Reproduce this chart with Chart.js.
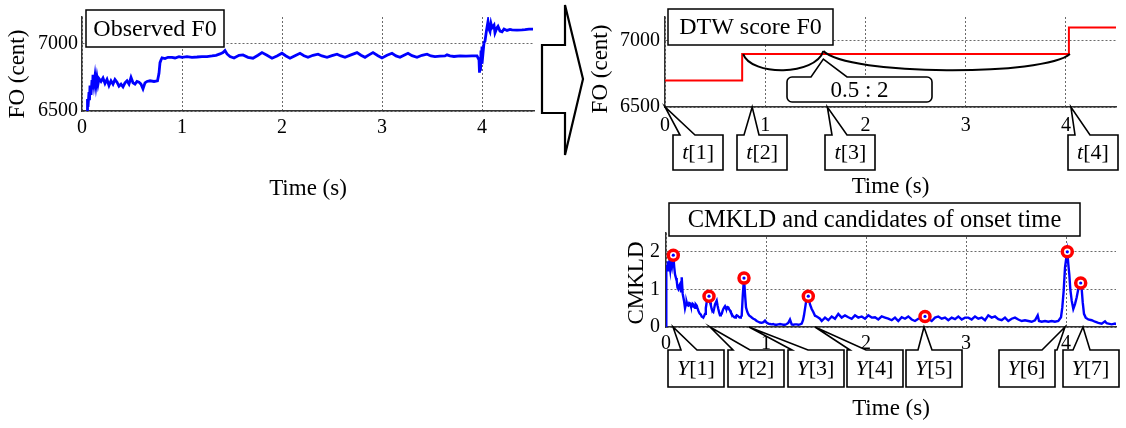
<!DOCTYPE html>
<html>
<head>
<meta charset="utf-8">
<script src="https://cdn.jsdelivr.net/npm/chart.js@4.4.1/dist/chart.umd.min.js"></script>
<style>
  html, body { margin: 0; padding: 0; background: #fff; }
  #page { position: relative; width: 1126px; height: 428px; overflow: hidden; }
  canvas, svg { position: absolute; }
</style>
</head>
<body>
<div id="page">
  <canvas id="obsChart" width="560" height="215" style="left:0;top:0"></canvas>
  <canvas id="dtwChart" width="541" height="202" style="left:585px;top:0"></canvas>
  <canvas id="klChart" width="541" height="233" style="left:585px;top:195px"></canvas>
  <svg width="60" height="170" style="left:530px;top:0">
    <polygon points="12,45 35,45 35,5 53,79 35,155 35,113 12,113" fill="#fff" stroke="#000" stroke-width="2.2" stroke-linejoin="miter"/>
  </svg>
</div>
<script>
// tick labels
const timeTicks = [0, 1, 2, 3, 4];
const f0Ticks = [6500, 7000];
const klTicks = [0, 1, 2];

// observed F0 (time in s, value in cent)
const obsTime = [0.05, 0.055, 0.06, 0.07, 0.075, 0.08, 0.09, 0.10, 0.105, 0.11, 0.12, 0.13, 0.14, 0.15, 0.16, 0.17, 0.19, 0.21, 0.23, 0.25,
  0.27, 0.29, 0.31, 0.33, 0.35, 0.37, 0.39, 0.41, 0.43, 0.45, 0.47, 0.49, 0.51, 0.53, 0.55, 0.57, 0.59, 0.61, 0.63, 0.65,
  0.68, 0.72, 0.755, 0.77, 0.78, 0.79, 0.80, 0.83, 0.86, 0.90, 0.93, 0.97, 1.00, 1.05, 1.10, 1.15, 1.20, 1.25, 1.30, 1.34,
  1.38, 1.41, 1.43, 1.45, 1.48, 1.52, 1.57, 1.61, 1.66, 1.71, 1.76, 1.80, 1.85, 1.90, 1.95, 2.00, 2.04, 2.08, 2.13, 2.18,
  2.22, 2.26, 2.31, 2.36, 2.40, 2.45, 2.50, 2.55, 2.59, 2.63, 2.69, 2.75, 2.79, 2.83, 2.87, 2.91, 2.96, 3.00, 3.05, 3.10,
  3.14, 3.18, 3.22, 3.26, 3.30, 3.35, 3.40, 3.45, 3.49, 3.53, 3.58, 3.63, 3.65, 3.68, 3.72, 3.78, 3.84, 3.90, 3.95, 3.97,
  3.975, 3.98, 3.985, 3.99, 3.995, 4.00, 4.01, 4.02, 4.03, 4.045, 4.06, 4.07, 4.08, 4.09, 4.10, 4.12, 4.13, 4.15, 4.16, 4.18,
  4.20, 4.22, 4.25, 4.28, 4.30, 4.35, 4.40, 4.43, 4.47, 4.51];
const obsF0 = [6500, 6590, 6530, 6640, 6580, 6690, 6620, 6730, 6660, 6770, 6700, 6760, 6690, 6750, 6700, 6740, 6720, 6745, 6705, 6735,
  6690, 6725, 6700, 6735, 6715, 6685, 6700, 6680, 6710, 6725, 6700, 6750, 6710, 6700, 6720, 6715, 6700, 6665, 6710, 6720,
  6725, 6720, 6725, 6780, 6860, 6880, 6895, 6890, 6900, 6900, 6895, 6905, 6900, 6905, 6900, 6902, 6905, 6905, 6910, 6915,
  6925, 6935, 6950, 6925, 6905, 6895, 6915, 6918, 6900, 6893, 6915, 6935, 6915, 6893, 6910, 6930, 6910, 6893, 6912, 6930,
  6912, 6900, 6915, 6923, 6910, 6900, 6912, 6923, 6910, 6900, 6918, 6935, 6915, 6900, 6918, 6935, 6912, 6895, 6915, 6930,
  6910, 6900, 6915, 6930, 6912, 6900, 6915, 6923, 6910, 6905, 6908, 6910, 6918, 6910, 6906, 6910, 6908, 6910, 6910, 6880,
  6785, 6900, 6800, 6950, 6850, 6980, 6930, 7010, 7020, 7100, 7166, 7110, 7092, 7150, 7120, 7140, 7082, 7120, 7130, 7095,
  7090, 7110, 7100, 7108, 7104, 7102, 7104, 7106, 7110, 7110];

// DTW score F0 (step values, each holds until the next time)
const dtwTime = [0, 0.77, 4.03, 4.5];
const dtwF0 = [6700, 6900, 7100, 7100];
const braceTimes = [0.78, 1.58, 4.04];
const braceLevel = 6900;
const ratioLabel = '0.5 : 2';
const ratioBoxCenter = 1.945;
const tMarks = [0, 0.87, 1.62, 4.05];
const tBoxCenters = [0.33, 0.97, 1.85, 4.27];
const tLabels = ['t[1]', 't[2]', 't[3]', 't[4]'];

// CMKLD
const klTime = [0.000, 0.003, 0.010, 0.018, 0.025, 0.033, 0.042, 0.050, 0.060, 0.073, 0.082, 0.090, 0.100, 0.107, 0.115, 0.123, 0.132, 0.140, 0.150, 0.157,
  0.167, 0.180, 0.190, 0.200, 0.207, 0.215, 0.223, 0.232, 0.240, 0.248, 0.257, 0.265, 0.273, 0.282, 0.290, 0.298, 0.307, 0.315, 0.323, 0.332,
  0.340, 0.348, 0.357, 0.365, 0.373, 0.382, 0.390, 0.398, 0.407, 0.415, 0.430, 0.440, 0.448, 0.457, 0.465, 0.473, 0.482, 0.490, 0.507, 0.515,
  0.523, 0.532, 0.540, 0.548, 0.557, 0.565, 0.573, 0.582, 0.590, 0.598, 0.607, 0.615, 0.623, 0.632, 0.640, 0.648, 0.657, 0.665, 0.673, 0.682,
  0.690, 0.698, 0.707, 0.715, 0.723, 0.732, 0.740, 0.748, 0.757, 0.767, 0.780, 0.790, 0.800, 0.813, 0.823, 0.833, 0.845, 0.857, 0.873, 0.890,
  0.907, 0.923, 0.940, 0.957, 0.975, 0.990, 1.005, 1.023, 1.040, 1.057, 1.073, 1.090, 1.107, 1.123, 1.140, 1.157, 1.173, 1.190, 1.207, 1.223,
  1.240, 1.257, 1.273, 1.290, 1.307, 1.323, 1.340, 1.357, 1.370, 1.380, 1.400, 1.423, 1.440, 1.457, 1.473, 1.490, 1.507, 1.523, 1.540, 1.557,
  1.590, 1.623, 1.657, 1.690, 1.723, 1.757, 1.790, 1.823, 1.857, 1.890, 1.923, 1.957, 1.990, 2.023, 2.057, 2.090, 2.123, 2.157, 2.190, 2.223,
  2.257, 2.290, 2.323, 2.357, 2.390, 2.423, 2.457, 2.490, 2.523, 2.557, 2.590, 2.623, 2.657, 2.690, 2.723, 2.757, 2.790, 2.823, 2.857, 2.890,
  2.923, 2.957, 2.990, 3.023, 3.057, 3.090, 3.123, 3.157, 3.190, 3.223, 3.257, 3.290, 3.323, 3.357, 3.390, 3.423, 3.457, 3.490, 3.523, 3.557,
  3.590, 3.623, 3.657, 3.690, 3.717, 3.730, 3.757, 3.790, 3.823, 3.857, 3.890, 3.923, 3.950, 3.963, 3.977, 3.990, 4.003, 4.013, 4.023, 4.033,
  4.043, 4.057, 4.073, 4.090, 4.107, 4.123, 4.137, 4.147, 4.157, 4.167, 4.180, 4.197, 4.223, 4.257, 4.290, 4.323, 4.357, 4.390, 4.407, 4.423,
  4.457, 4.490, 4.507];
const klValue = [0.00, 1.65, 1.55, 1.75, 1.48, 1.70, 1.52, 1.78, 1.62, 1.91, 1.60, 1.40, 1.30, 1.23, 1.05, 1.01, 1.10, 1.14, 0.95, 1.32,
  0.88, 0.70, 0.50, 0.62, 0.66, 0.58, 0.57, 0.64, 0.63, 0.56, 0.55, 0.62, 0.60, 0.53, 0.51, 0.60, 0.57, 0.50, 0.44, 0.38,
  0.35, 0.33, 0.28, 0.27, 0.25, 0.30, 0.35, 0.50, 0.66, 0.72, 0.82, 0.66, 0.58, 0.48, 0.42, 0.40, 0.50, 0.60, 0.70, 0.58,
  0.48, 0.38, 0.31, 0.33, 0.35, 0.42, 0.48, 0.52, 0.55, 0.50, 0.48, 0.53, 0.52, 0.47, 0.44, 0.39, 0.35, 0.30, 0.28, 0.26,
  0.25, 0.28, 0.31, 0.30, 0.28, 0.26, 0.25, 0.27, 0.30, 0.80, 1.30, 0.88, 0.52, 0.40, 0.34, 0.30, 0.28, 0.25, 0.22, 0.20,
  0.16, 0.14, 0.12, 0.11, 0.13, 0.17, 0.12, 0.09, 0.08, 0.07, 0.08, 0.06, 0.06, 0.07, 0.08, 0.07, 0.06, 0.06, 0.08, 0.11,
  0.20, 0.07, 0.06, 0.07, 0.07, 0.06, 0.07, 0.09, 0.18, 0.31, 0.66, 0.82, 0.60, 0.48, 0.40, 0.30, 0.28, 0.25, 0.22, 0.16,
  0.25, 0.18, 0.28, 0.22, 0.35, 0.25, 0.31, 0.26, 0.22, 0.31, 0.25, 0.28, 0.22, 0.31, 0.25, 0.26, 0.20, 0.28, 0.25, 0.22,
  0.18, 0.25, 0.16, 0.26, 0.22, 0.28, 0.20, 0.16, 0.22, 0.25, 0.28, 0.22, 0.16, 0.25, 0.28, 0.22, 0.25, 0.18, 0.25, 0.21,
  0.28, 0.20, 0.25, 0.25, 0.20, 0.28, 0.22, 0.25, 0.18, 0.31, 0.25, 0.28, 0.21, 0.18, 0.25, 0.16, 0.22, 0.25, 0.20, 0.16,
  0.18, 0.16, 0.14, 0.18, 0.31, 0.16, 0.14, 0.16, 0.14, 0.16, 0.14, 0.16, 0.26, 0.52, 0.97, 1.58, 1.84, 2.00, 1.67, 1.40,
  1.01, 0.70, 0.48, 0.61, 0.79, 1.01, 1.14, 1.17, 1.01, 0.66, 0.35, 0.25, 0.20, 0.18, 0.14, 0.11, 0.09, 0.15, 0.10, 0.09,
  0.07, 0.09, 0.07];
const peakTime = [0.073, 0.43, 0.78, 1.423, 2.59, 4.013, 4.147];
const peakValue = [1.91, 0.82, 1.30, 0.82, 0.28, 2.00, 1.17];
const yMarks = [0.07, 0.44, 0.83, 1.49, 2.58, 3.99, 4.17];
const yBoxCenters = [0.30, 0.895, 1.495, 2.085, 2.68, 3.605, 4.245];
const yBaseOffsets = [[13, 29], [5, 22], [4, 20], [3, 19], [12, 26], [43, 58], [10, 27]];
const yLabels = ['Y[1]', 'Y[2]', 'Y[3]', 'Y[4]', 'Y[5]', 'Y[6]', 'Y[7]'];

const FONT = "'Liberation Serif', 'Times New Roman', serif";
Chart.defaults.font.family = FONT;
Chart.defaults.color = '#000';

const pts = (xs, ys) => xs.map((v, i) => ({ x: v, y: ys[i] }));

function axis(min, max, tickValues, tickPad, title, titlePad, fitSize, horizontal) {
  return {
    type: 'linear',
    min: min,
    max: max,
    afterBuildTicks: s => { s.ticks = tickValues.map(v => ({ value: v })); },
    ticks: {
      padding: tickPad,
      maxRotation: 0,
      autoSkip: false,
      font: { size: 20 },
      callback: v => String(v)
    },
    grid: { color: '#6a6a6a', lineWidth: 1, drawTicks: false },
    border: { color: '#333', width: 1.5, dash: [2, 2] },
    title: { display: horizontal, text: title, font: { size: 23 }, padding: titlePad },
    afterFit: horizontal ? (s => { s.height = fitSize; }) : (s => { s.width = fitSize; })
  };
}

// rotated y-axis title, centred at (cx, cy)
function yTitle(ctx, text, cx, cy) {
  ctx.save();
  ctx.translate(cx, cy);
  ctx.rotate(-Math.PI / 2);
  ctx.fillStyle = '#000';
  ctx.font = '23px ' + FONT;
  ctx.textAlign = 'center';
  ctx.textBaseline = 'middle';
  ctx.fillText(text, 0, 0);
  ctx.restore();
}

function titleBox(ctx, left, top, w, h, text, size) {
  ctx.save();
  ctx.fillStyle = '#fff';
  ctx.strokeStyle = '#000';
  ctx.lineWidth = 1.5;
  ctx.fillRect(left, top, w, h);
  ctx.strokeRect(left, top, w, h);
  ctx.fillStyle = '#000';
  ctx.font = size + 'px ' + FONT;
  ctx.textAlign = 'center';
  ctx.textBaseline = 'middle';
  ctx.fillText(text, left + w / 2, top + h / 2 + 1);
  ctx.restore();
}

// speech-bubble box with a wedge from its top edge to (ax, ay)
function callout(ctx, label, cx, top, h, b1, b2, ax, ay) {
  const letter = label.charAt(0), rest = label.slice(1);
  ctx.save();
  ctx.font = 'italic 22px ' + FONT;
  const w1 = ctx.measureText(letter).width;
  ctx.font = '22px ' + FONT;
  const w2 = ctx.measureText(rest).width;
  const w = Math.round(w1 + w2 + 18);
  const left = Math.round(cx - w / 2);
  ctx.beginPath();
  ctx.moveTo(left, top);
  ctx.lineTo(left + b1, top);
  ctx.lineTo(ax, ay);
  ctx.lineTo(left + b2, top);
  ctx.lineTo(left + w, top);
  ctx.lineTo(left + w, top + h);
  ctx.lineTo(left, top + h);
  ctx.closePath();
  ctx.fillStyle = '#fff';
  ctx.fill();
  ctx.strokeStyle = '#000';
  ctx.lineWidth = 1.6;
  ctx.lineJoin = 'miter';
  ctx.stroke();
  ctx.fillStyle = '#000';
  ctx.textBaseline = 'middle';
  ctx.textAlign = 'left';
  const tx = cx - (w1 + w2) / 2;
  ctx.font = 'italic 22px ' + FONT;
  ctx.fillText(letter, tx, top + h / 2 + 1);
  ctx.font = '22px ' + FONT;
  ctx.fillText(rest, tx + w1, top + h / 2 + 1);
  ctx.restore();
}

// Observed F0
new Chart(document.getElementById('obsChart'), {
  type: 'line',
  data: {
    datasets: [{
      data: pts(obsTime, obsF0),
      borderColor: '#0000ff',
      borderWidth: 2.8,
      pointRadius: 0,
      tension: 0
    }]
  },
  options: {
    responsive: false,
    animation: false,
    layout: { padding: { left: 0, right: 26, top: 17, bottom: 0 } },
    plugins: { legend: { display: false }, tooltip: { enabled: false } },
    scales: {
      x: axis(0, 4.52, timeTicks, 5, 'Time (s)', { top: 0, bottom: 12 }, 104, true),
      y: axis(6500, 7200, f0Ticks, 4, 'FO (cent)', null, 82, false)
    }
  },
  plugins: [{
    id: 'obsOverlay',
    afterDraw(chart) {
      const ca = chart.chartArea;
      yTitle(chart.ctx, 'FO (cent)', 18, 74);
      titleBox(chart.ctx, ca.left + 4, ca.top - 7, 138, 37, 'Observed F0', 24);
    }
  }]
});

// DTW score F0
new Chart(document.getElementById('dtwChart'), {
  type: 'line',
  data: {
    datasets: [{
      data: pts(dtwTime, dtwF0),
      borderColor: '#ff0000',
      borderWidth: 2,
      pointRadius: 0,
      stepped: true
    }]
  },
  options: {
    responsive: false,
    animation: false,
    layout: { padding: { left: 0, right: 10, top: 12, bottom: 0 } },
    plugins: { legend: { display: false }, tooltip: { enabled: false } },
    scales: {
      x: axis(0, 4.5, timeTicks, 7, 'Time (s)', { top: 0, bottom: 1 }, 95, true),
      y: axis(6500, 7180, f0Ticks, 5, 'FO (cent)', null, 80, false)
    }
  },
  plugins: [{
    id: 'dtwOverlay',
    afterDraw(chart) {
      const { ctx, chartArea: ca, scales: { x, y } } = chart;
      yTitle(ctx, 'FO (cent)', 16, 69);
      titleBox(ctx, ca.left + 3, ca.top - 8, 165, 36, 'DTW score F0', 24);

      // braces between the aligned times
      const by = y.getPixelForValue(braceLevel);
      ctx.save();
      ctx.strokeStyle = '#000';
      ctx.lineWidth = 2;
      for (let i = 0; i < braceTimes.length - 1; i++) {
        const x0 = x.getPixelForValue(braceTimes[i]);
        const x1 = x.getPixelForValue(braceTimes[i + 1]);
        const w = x1 - x0;
        const y0 = i === 0 ? by : by - 3;
        const y1 = i === 0 ? by - 3 : by;
        ctx.beginPath();
        ctx.moveTo(x0, y0);
        ctx.bezierCurveTo(x0 + 0.1 * w, by + 22, x1 - 0.1 * w, by + 22, x1, y1);
        ctx.stroke();
      }
      ctx.restore();

      // rounded ratio label with a pointer to the brace cusp
      const cusp = x.getPixelForValue(braceTimes[1]);
      const bw = 145, bh = 25, r = 5;
      const bl = Math.round(x.getPixelForValue(ratioBoxCenter) - bw / 2);
      const bt = Math.round(by + 23);
      ctx.save();
      ctx.beginPath();
      ctx.moveTo(bl + r, bt);
      ctx.lineTo(bl + 24, bt);
      ctx.lineTo(cusp, by + 5);
      ctx.lineTo(bl + 60, bt);
      ctx.arcTo(bl + bw, bt, bl + bw, bt + bh, r);
      ctx.arcTo(bl + bw, bt + bh, bl, bt + bh, r);
      ctx.arcTo(bl, bt + bh, bl, bt, r);
      ctx.arcTo(bl, bt, bl + bw, bt, r);
      ctx.closePath();
      ctx.fillStyle = '#fff';
      ctx.fill();
      ctx.strokeStyle = '#000';
      ctx.lineWidth = 1.6;
      ctx.stroke();
      ctx.fillStyle = '#000';
      ctx.font = '23px ' + FONT;
      ctx.textAlign = 'center';
      ctx.textBaseline = 'middle';
      ctx.fillText(ratioLabel, bl + bw / 2, bt + bh / 2 + 1);
      ctx.restore();

      const ay = y.getPixelForValue(6500);
      tMarks.forEach((t, i) => {
        callout(ctx, tLabels[i], x.getPixelForValue(tBoxCenters[i]), Math.round(ca.bottom + 28), 35,
          7, 22, x.getPixelForValue(t), ay);
      });
    }
  }]
});

// CMKLD and candidates of onset time
new Chart(document.getElementById('klChart'), {
  type: 'line',
  data: {
    datasets: [{
      data: pts(peakTime, peakValue),
      showLine: false,
      pointRadius: 1.6,
      pointBorderWidth: 0,
      pointBackgroundColor: '#0000ff',
      order: 1
    }, {
      data: pts(peakTime, peakValue),
      showLine: false,
      pointRadius: 5,
      pointBorderWidth: 3.5,
      pointBorderColor: '#ff0000',
      pointBackgroundColor: '#ffffff',
      order: 2
    }, {
      data: pts(klTime, klValue),
      borderColor: '#0000ff',
      borderWidth: 2.4,
      pointRadius: 0,
      tension: 0,
      order: 3
    }]
  },
  options: {
    responsive: false,
    animation: false,
    layout: { padding: { left: 0, right: 10, top: 38, bottom: 0 } },
    plugins: { legend: { display: false }, tooltip: { enabled: false } },
    scales: {
      x: axis(0, 4.5, timeTicks, 5, 'Time (s)', { top: 0, bottom: 5 }, 101, true),
      y: axis(0, 2.5, klTicks, 6, 'CMKLD', null, 81, false)
    }
  },
  plugins: [{
    id: 'klOverlay',
    afterDraw(chart) {
      const { ctx, chartArea: ca, scales: { x, y } } = chart;
      yTitle(ctx, 'CMKLD', 52, 88);
      titleBox(ctx, ca.left + 3, ca.top - 30, 411, 33, 'CMKLD and candidates of onset time', 24.5);
      const ay = y.getPixelForValue(0);
      yMarks.forEach((t, i) => {
        callout(ctx, yLabels[i], x.getPixelForValue(yBoxCenters[i]), Math.round(ca.bottom + 23), 37,
          yBaseOffsets[i][0], yBaseOffsets[i][1], x.getPixelForValue(t), ay);
      });
    }
  }]
});
</script>
</body>
</html>
